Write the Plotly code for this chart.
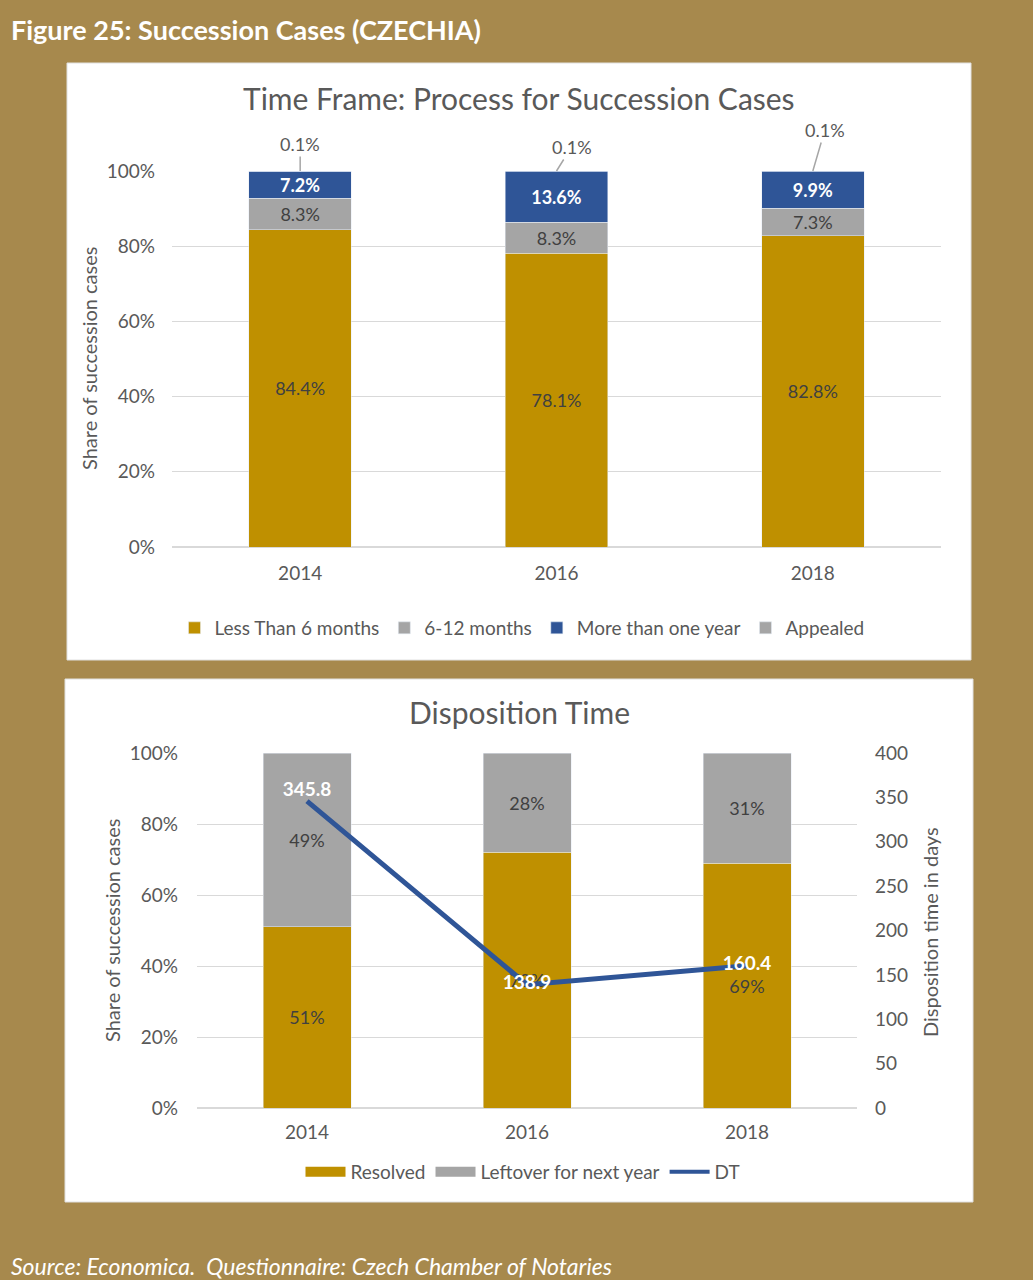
import plotly.graph_objects as go

# ---------------- data ----------------
years = ["2014", "2016", "2018"]
less_6m = [84.4, 78.1, 82.8]
m6_12 = [8.3, 8.3, 7.3]
more_1y = [7.2, 13.6, 9.9]
appealed = [0.1, 0.1, 0.1]

resolved = [51, 72, 69]
leftover = [49, 28, 31]
dt_days = [345.8, 138.9, 160.4]

pct_ticks = [0, 20, 40, 60, 80, 100]
day_ticks = [0, 50, 100, 150, 200, 250, 300, 350, 400]

# ---------------- style ----------------
W, H = 1033, 1280
BG = "#A7894D"
GOLD = "#BF9000"
GREY = "#A5A5A5"
BLUE = "#2F5597"
TXT = "#595959"
DARK = "#404040"
GRID = "#D9D9D9"
FONT = "Lato"
LBL = 18


def fx(x):
    return x / W


def fy(y):
    return 1 - y / H


fig = go.Figure()

# ---- chart 1: stacked bars ----
fig.add_trace(go.Bar(x=years, y=less_6m, name="Less Than 6 months", marker_color=GOLD,
                     texttemplate="%{y:.1f}%", textposition="inside", insidetextanchor="middle",
                     textfont=dict(color=DARK, size=LBL, family=FONT), constraintext="none",
                     xaxis="x", yaxis="y", legend="legend"))
fig.add_trace(go.Bar(x=years, y=m6_12, name="6-12 months", marker_color=GREY,
                     texttemplate="%{y:.1f}%", textposition="inside", insidetextanchor="middle",
                     textfont=dict(color=DARK, size=LBL, family=FONT), constraintext="none",
                     xaxis="x", yaxis="y", legend="legend"))
fig.add_trace(go.Bar(x=years, y=more_1y, name="More than one year", marker_color=BLUE,
                     texttemplate="<b>%{y:.1f}%</b>", textposition="inside", insidetextanchor="middle",
                     textfont=dict(color="white", size=LBL, family=FONT), constraintext="none",
                     xaxis="x", yaxis="y", legend="legend"))
fig.add_trace(go.Bar(x=years, y=appealed, name="Appealed", marker_color=GREY,
                     textposition="none",
                     xaxis="x", yaxis="y", legend="legend"))

# ---- chart 2: bars + line ----
fig.add_trace(go.Bar(x=years, y=resolved, name="Resolved", marker_color=GOLD,
                     texttemplate="%{y:.0f}%", textposition="inside", insidetextanchor="middle",
                     textfont=dict(color=DARK, size=LBL, family=FONT), constraintext="none",
                     xaxis="x2", yaxis="y2", showlegend=False))
fig.add_trace(go.Bar(x=years, y=leftover, name="Leftover for next year", marker_color=GREY,
                     texttemplate="%{y:.0f}%", textposition="inside", insidetextanchor="middle",
                     textfont=dict(color=DARK, size=LBL, family=FONT), constraintext="none",
                     xaxis="x2", yaxis="y2", showlegend=False))
fig.add_trace(go.Scatter(x=years, y=dt_days, name="DT", mode="lines+text",
                         line=dict(color=BLUE, width=5),
                         text=[f"<b>{v:.1f}</b>" for v in dt_days],
                         textposition=["top center", "middle center", "middle center"],
                         textfont=dict(color="white", size=19, family=FONT),
                         xaxis="x2", yaxis="y3", showlegend=False))

# legend-only entries for chart 2 (wide rectangular swatches like the original)
for nm, col, w in [("Resolved", GOLD, 12), ("Leftover for next year", GREY, 12), ("DT", BLUE, 4)]:
    fig.add_trace(go.Scatter(x=[None], y=[None], mode="lines", name=nm,
                             line=dict(color=col, width=w), xaxis="x2", yaxis="y2",
                             legend="legend2", hoverinfo="skip"))

# ---- annotations for the tiny "Appealed" segment ----
annots = []
offsets = [(0, -27), (15, -24), (12, -41)]
for i, yr in enumerate(years):
    top = less_6m[i] + m6_12[i] + more_1y[i] + appealed[i]
    ax, ay = offsets[i]
    annots.append(dict(x=i, y=min(top, 100), xref="x", yref="y", text=f"{appealed[i]:.1f}%",
                       showarrow=True, arrowhead=0, arrowwidth=1.5, arrowcolor="#A6A6A6",
                       ax=ax, ay=ay, font=dict(size=LBL, color=TXT, family=FONT)))

# titles & axis titles
annots += [
    dict(text="<b>Figure 25: Succession Cases (CZECHIA)</b>", x=fx(9), y=fy(29), xref="paper", yref="paper",
         xanchor="left", yanchor="middle", showarrow=False, font=dict(size=27, color="white", family=FONT)),
    dict(text="Time Frame: Process for Succession Cases", x=fx(519), y=fy(98), xref="paper", yref="paper",
         xanchor="center", yanchor="middle", showarrow=False, font=dict(size=30, color=TXT, family=FONT)),
    dict(text="Share of succession cases", x=fx(89), y=fy(359), xref="paper", yref="paper", textangle=-90,
         xanchor="center", yanchor="middle", showarrow=False, font=dict(size=20, color=TXT, family=FONT)),
    dict(text="Disposition Time", x=fx(519), y=fy(712), xref="paper", yref="paper",
         xanchor="center", yanchor="middle", showarrow=False, font=dict(size=30, color=TXT, family=FONT)),
    dict(text="Share of succession cases", x=fx(112), y=fy(931), xref="paper", yref="paper", textangle=-90,
         xanchor="center", yanchor="middle", showarrow=False, font=dict(size=20, color=TXT, family=FONT)),
    dict(text="Disposition time in days", x=fx(930), y=fy(932), xref="paper", yref="paper", textangle=-90,
         xanchor="center", yanchor="middle", showarrow=False, font=dict(size=20, color=TXT, family=FONT)),
    dict(text="<i>Source: Economica.  Questionnaire: Czech Chamber of Notaries</i>", x=fx(9), y=fy(1266),
         xref="paper", yref="paper", xanchor="left", yanchor="middle", showarrow=False,
         font=dict(size=23, color="white", family=FONT)),
]

shapes = [
    dict(type="rect", xref="paper", yref="paper", x0=fx(67), x1=fx(971), y0=fy(660), y1=fy(63),
         fillcolor="white", line=dict(color="#E0E0E0", width=1), layer="below"),
    dict(type="rect", xref="paper", yref="paper", x0=fx(65), x1=fx(973), y0=fy(1202), y1=fy(679),
         fillcolor="white", line=dict(color="#E0E0E0", width=1), layer="below"),
]

tickfont = dict(size=19, color=TXT, family=FONT)

fig.update_layout(
    width=W, height=H, autosize=False,
    margin=dict(l=0, r=0, t=0, b=0, autoexpand=False),
    paper_bgcolor=BG, plot_bgcolor="rgba(0,0,0,0)",
    barmode="stack", bargap=0.6,
    font=dict(family=FONT, color=TXT),
    showlegend=True,
    xaxis=dict(domain=[fx(172), fx(941)], anchor="y", type="category", range=[-0.5, 2.5],
               showgrid=False, showline=False, ticks="", tickfont=tickfont, ticklabelstandoff=13),
    yaxis=dict(domain=[fy(547), fy(171)], anchor="x", range=[0, 100], tickmode="array",
               tickvals=pct_ticks, ticktext=[f"{v}%" for v in pct_ticks],
               showgrid=True, gridcolor=GRID, gridwidth=1, zeroline=True, zerolinecolor=GRID,
               showline=False, tickfont=tickfont, ticklabelstandoff=16),
    xaxis2=dict(domain=[fx(197), fx(857)], anchor="y2", type="category", range=[-0.5, 2.5],
                showgrid=False, showline=False, ticks="", tickfont=tickfont, ticklabelstandoff=11),
    yaxis2=dict(domain=[fy(1108), fy(753)], anchor="x2", range=[0, 100], tickmode="array",
                tickvals=pct_ticks, ticktext=[f"{v}%" for v in pct_ticks],
                showgrid=True, gridcolor=GRID, gridwidth=1, zeroline=True, zerolinecolor=GRID,
                showline=False, tickfont=tickfont, ticklabelstandoff=18),
    yaxis3=dict(overlaying="y2", anchor="x2", side="right", range=[0, 400], tickmode="array",
                tickvals=day_ticks, showgrid=False,
                zeroline=False, showline=False, tickfont=tickfont, ticklabelstandoff=17),
    legend=dict(orientation="h", x=fx(522), y=fy(628), xanchor="center", yanchor="middle",
                font=dict(size=19, color=TXT, family=FONT), bgcolor="rgba(0,0,0,0)", traceorder="normal",
                itemwidth=30),
    legend2=dict(orientation="h", x=fx(523), y=fy(1172), xanchor="center", yanchor="middle",
                 font=dict(size=19, color=TXT, family=FONT), bgcolor="rgba(0,0,0,0)", traceorder="normal",
                 itemwidth=40),
    annotations=annots,
    shapes=shapes,
)

fig.write_html("out.html")
